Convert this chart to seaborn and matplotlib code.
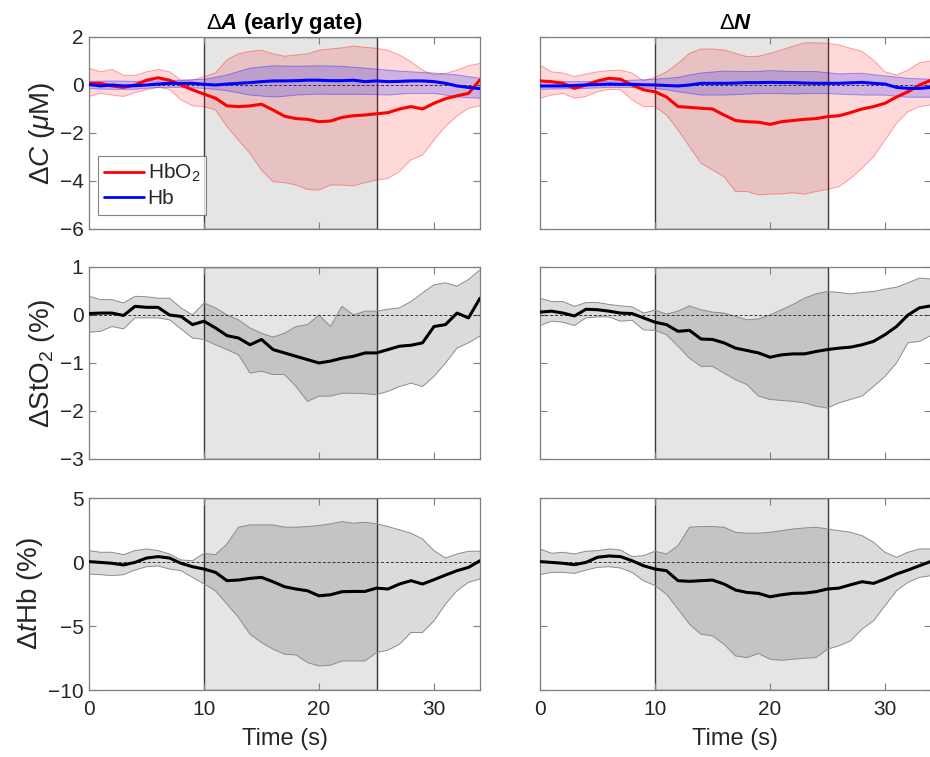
import numpy as np
import pandas as pd
import matplotlib
matplotlib.use("Agg")
import matplotlib.pyplot as plt
import seaborn as sns

# Sample times (s)
TIME = list(range(35))

# ---- Delta A (early gate) ----
A_HBO2_MEAN = [0.07, 0.07, -0.04, -0.10, 0.00, 0.20, 0.30, 0.20, 0.00, -0.20, -0.38, -0.55, -0.87, -0.90, -0.87, -0.80, -1.04, -1.30, -1.40, -1.43, -1.53, -1.50, -1.35, -1.28, -1.25, -1.20, -1.15, -1.00, -0.90, -1.00, -0.76, -0.57, -0.45, -0.35, 0.22]
A_HBO2_UP = [0.70, 0.55, 0.65, 0.40, 0.40, 0.55, 0.65, 0.55, 0.20, 0.20, 0.35, 0.50, 1.05, 1.30, 1.40, 1.45, 1.30, 1.20, 1.25, 1.30, 1.45, 1.50, 1.55, 1.62, 1.57, 1.53, 1.45, 1.25, 0.97, 0.62, 0.42, 0.48, 0.62, 0.80, 0.90]
A_HBO2_LO = [-0.48, -0.35, -0.42, -0.48, -0.32, -0.20, -0.10, -0.18, -0.62, -0.87, -0.90, -1.04, -1.73, -2.30, -2.85, -3.55, -4.03, -4.07, -4.17, -4.35, -4.38, -4.17, -4.17, -4.20, -4.07, -3.96, -3.90, -3.60, -3.12, -2.92, -2.30, -1.73, -1.30, -0.97, -0.87]
A_HB_MEAN = [0.02, -0.04, 0.00, -0.04, -0.03, 0.00, 0.04, 0.07, 0.07, 0.07, 0.03, 0.00, 0.04, 0.07, 0.10, 0.14, 0.17, 0.17, 0.18, 0.20, 0.20, 0.18, 0.18, 0.20, 0.14, 0.17, 0.14, 0.15, 0.17, 0.17, 0.14, 0.07, -0.04, -0.10, -0.15]
A_HB_UP = [0.15, 0.16, 0.17, 0.16, 0.15, 0.16, 0.17, 0.18, 0.20, 0.22, 0.24, 0.32, 0.42, 0.56, 0.70, 0.75, 0.80, 0.79, 0.78, 0.79, 0.80, 0.79, 0.78, 0.74, 0.70, 0.66, 0.62, 0.58, 0.55, 0.52, 0.50, 0.46, 0.42, 0.35, 0.28]
A_HB_LO = [-0.14, -0.17, -0.18, -0.18, -0.18, -0.14, -0.10, -0.10, -0.10, -0.12, -0.14, -0.18, -0.24, -0.33, -0.42, -0.46, -0.50, -0.47, -0.42, -0.40, -0.38, -0.39, -0.39, -0.39, -0.39, -0.40, -0.42, -0.38, -0.35, -0.35, -0.35, -0.42, -0.50, -0.53, -0.55]

A_STO2_MEAN = [0.03, 0.04, 0.04, -0.01, 0.18, 0.16, 0.16, 0.00, -0.03, -0.20, -0.13, -0.27, -0.43, -0.48, -0.62, -0.51, -0.72, -0.79, -0.86, -0.93, -1.00, -0.96, -0.90, -0.86, -0.79, -0.79, -0.72, -0.65, -0.63, -0.58, -0.24, -0.20, 0.04, -0.06, 0.35]
A_STO2_UP = [0.39, 0.32, 0.32, 0.25, 0.39, 0.38, 0.35, 0.35, 0.15, 0.00, 0.25, 0.15, 0.00, -0.10, -0.27, -0.38, -0.46, -0.38, -0.24, -0.20, 0.00, -0.24, 0.18, 0.00, 0.08, 0.08, 0.12, 0.15, 0.28, 0.46, 0.63, 0.67, 0.60, 0.74, 0.94]
A_STO2_LO = [-0.36, -0.34, -0.24, -0.29, -0.06, -0.06, -0.06, -0.10, -0.29, -0.48, -0.51, -0.62, -0.72, -0.83, -1.21, -1.17, -1.24, -1.24, -1.49, -1.80, -1.69, -1.69, -1.63, -1.63, -1.64, -1.66, -1.59, -1.49, -1.42, -1.49, -1.28, -1.00, -0.69, -0.58, -0.44]

A_THB_MEAN = [0.03, -0.03, -0.10, -0.23, -0.03, 0.31, 0.42, 0.31, -0.10, -0.37, -0.55, -0.81, -1.46, -1.41, -1.28, -1.20, -1.54, -1.93, -2.11, -2.25, -2.64, -2.56, -2.32, -2.30, -2.30, -2.04, -2.11, -1.72, -1.46, -1.72, -1.38, -1.02, -0.68, -0.42, 0.10]
A_THB_UP = [0.89, 0.76, 0.76, 0.57, 0.89, 1.02, 0.89, 0.63, 0.16, 0.10, 0.68, 0.57, 1.41, 2.72, 2.90, 2.90, 2.90, 2.72, 2.72, 2.77, 2.85, 2.98, 3.16, 3.03, 3.10, 2.98, 2.77, 2.51, 2.25, 1.80, 0.89, 0.31, 0.63, 0.84, 0.84]
A_THB_LO = [-0.94, -0.99, -1.07, -0.99, -0.63, -0.37, -0.31, -0.55, -0.68, -1.20, -1.72, -2.25, -3.29, -4.33, -5.64, -6.29, -6.81, -7.20, -7.26, -7.86, -8.12, -8.07, -7.73, -7.73, -7.73, -7.08, -6.89, -6.42, -5.51, -5.51, -4.60, -3.29, -2.25, -1.59, -1.33]

# ---- Delta N ----
N_HBO2_MEAN = [0.17, 0.14, 0.07, -0.14, 0.00, 0.17, 0.28, 0.24, 0.00, -0.20, -0.28, -0.50, -0.90, -0.93, -0.97, -1.00, -1.25, -1.48, -1.53, -1.55, -1.64, -1.53, -1.48, -1.43, -1.40, -1.32, -1.28, -1.15, -1.00, -0.90, -0.76, -0.50, -0.28, 0.00, 0.20]
N_HBO2_UP = [0.83, 0.55, 0.50, 0.35, 0.46, 0.55, 0.60, 0.62, 0.50, 0.17, 0.32, 0.55, 0.90, 1.32, 1.50, 1.50, 1.46, 1.32, 1.18, 1.20, 1.32, 1.46, 1.62, 1.76, 1.76, 1.74, 1.67, 1.53, 1.40, 1.04, 0.55, 0.42, 0.62, 0.93, 1.00]
N_HBO2_LO = [-0.55, -0.42, -0.35, -0.55, -0.48, -0.28, -0.18, -0.20, -0.62, -0.90, -0.90, -1.25, -1.87, -2.57, -3.26, -3.54, -3.82, -4.44, -4.44, -4.58, -4.55, -4.54, -4.49, -4.55, -4.44, -4.35, -4.24, -3.90, -3.47, -2.99, -2.30, -1.60, -1.11, -0.90, -0.83]
N_HB_MEAN = [-0.04, -0.04, -0.04, -0.02, 0.00, 0.02, 0.04, 0.03, 0.03, 0.01, 0.00, -0.02, -0.04, 0.00, 0.07, 0.07, 0.07, 0.08, 0.10, 0.10, 0.11, 0.10, 0.10, 0.08, 0.07, 0.07, 0.07, 0.09, 0.11, 0.07, 0.04, -0.10, -0.14, -0.14, -0.10]
N_HB_UP = [0.14, 0.14, 0.14, 0.14, 0.14, 0.16, 0.17, 0.18, 0.20, 0.22, 0.24, 0.28, 0.32, 0.42, 0.50, 0.54, 0.58, 0.57, 0.56, 0.57, 0.60, 0.58, 0.56, 0.56, 0.56, 0.51, 0.46, 0.48, 0.49, 0.43, 0.38, 0.33, 0.28, 0.26, 0.24]
N_HB_LO = [-0.18, -0.17, -0.16, -0.15, -0.14, -0.12, -0.10, -0.10, -0.10, -0.12, -0.14, -0.20, -0.28, -0.35, -0.42, -0.42, -0.42, -0.40, -0.38, -0.36, -0.35, -0.36, -0.38, -0.36, -0.35, -0.36, -0.38, -0.40, -0.42, -0.42, -0.42, -0.47, -0.51, -0.51, -0.51]

N_STO2_MEAN = [0.06, 0.08, 0.04, -0.02, 0.12, 0.11, 0.08, 0.04, 0.03, -0.06, -0.15, -0.20, -0.34, -0.32, -0.50, -0.51, -0.58, -0.69, -0.74, -0.79, -0.88, -0.83, -0.81, -0.81, -0.76, -0.72, -0.69, -0.67, -0.62, -0.55, -0.41, -0.24, 0.00, 0.15, 0.19]
N_STO2_UP = [0.35, 0.28, 0.28, 0.18, 0.26, 0.26, 0.22, 0.19, 0.17, 0.04, 0.10, 0.02, 0.08, 0.19, 0.11, 0.06, 0.04, -0.03, -0.10, -0.08, 0.00, 0.11, 0.22, 0.35, 0.44, 0.49, 0.47, 0.44, 0.47, 0.49, 0.54, 0.58, 0.67, 0.77, 0.75]
N_STO2_LO = [-0.22, -0.13, -0.15, -0.22, -0.06, -0.04, -0.04, -0.13, -0.11, -0.31, -0.32, -0.41, -0.65, -0.90, -1.07, -1.07, -1.21, -1.35, -1.45, -1.69, -1.76, -1.78, -1.80, -1.83, -1.90, -1.94, -1.83, -1.76, -1.69, -1.49, -1.28, -1.00, -0.58, -0.55, -0.43]

N_THB_MEAN = [0.03, -0.03, -0.10, -0.21, -0.03, 0.37, 0.47, 0.42, 0.10, -0.29, -0.55, -0.68, -1.46, -1.51, -1.46, -1.41, -1.72, -2.19, -2.38, -2.45, -2.72, -2.56, -2.45, -2.43, -2.32, -2.11, -2.04, -1.78, -1.54, -1.67, -1.33, -0.94, -0.63, -0.29, 0.05]
N_THB_UP = [1.02, 0.68, 0.76, 0.63, 0.84, 0.89, 1.02, 0.94, 0.42, 0.50, 0.84, 0.63, 1.28, 2.72, 2.77, 2.77, 2.72, 2.32, 2.25, 2.25, 2.32, 2.45, 2.58, 2.66, 2.72, 2.58, 2.45, 2.32, 2.06, 1.54, 0.76, 0.37, 0.76, 1.02, 1.02]
N_THB_LO = [-0.99, -0.81, -0.81, -0.89, -0.63, -0.42, -0.37, -0.47, -0.81, -1.46, -1.85, -2.51, -3.68, -4.86, -5.64, -5.77, -6.42, -7.34, -7.47, -7.15, -7.60, -7.68, -7.60, -7.52, -7.47, -6.81, -6.55, -6.16, -5.25, -4.60, -3.42, -2.25, -1.59, -1.20, -1.07]

STIM_WINDOW = (10, 25)
COL_TITLES = [r"$\Delta\mathbfit{A}$ (early gate)", r"$\Delta\mathbfit{N}$"]
ROW_LABELS = [r"$\Delta C$ ($\mu$M)", r"$\Delta$StO$_2$ (%)", r"$\Delta t$Hb (%)"]
ROW_YLIMS = [(-6, 2), (-3, 1), (-10, 5)]
ROW_YTICKS = [[-6, -4, -2, 0, 2], [-3, -2, -1, 0, 1], [-10, -5, 0, 5]]
XTICKS = [0, 10, 20, 30]

sns.set_theme(style="ticks")
plt.rcParams.update({
    "font.family": ["Liberation Sans", "DejaVu Sans"],
    "mathtext.fontset": "custom",
    "mathtext.rm": "Liberation Sans",
    "mathtext.it": "Liberation Sans:italic",
    "mathtext.bf": "Liberation Sans:bold",
    "mathtext.bfit": "Liberation Sans:bold:italic",
    "mathtext.sf": "Liberation Sans",
    "axes.edgecolor": "#7f7f7f",
    "axes.linewidth": 0.9,
    "xtick.color": "#7f7f7f",
    "ytick.color": "#7f7f7f",
    "xtick.labelcolor": "#262626",
    "ytick.labelcolor": "#262626",
    "xtick.direction": "in",
    "ytick.direction": "in",
})

RED = "#ff0000"
BLUE = "#0000ff"

fig = plt.figure(figsize=(9.3, 7.57), dpi=100)
lefts = [89 / 930, 540 / 930]
width = 391 / 930
bottoms = [1 - 229 / 757, 1 - 459 / 757, 1 - 690 / 757]
height = 192 / 757

panels = {
    0: [(A_HBO2_MEAN, A_HBO2_UP, A_HBO2_LO, A_HB_MEAN, A_HB_UP, A_HB_LO),
        (A_STO2_MEAN, A_STO2_UP, A_STO2_LO),
        (A_THB_MEAN, A_THB_UP, A_THB_LO)],
    1: [(N_HBO2_MEAN, N_HBO2_UP, N_HBO2_LO, N_HB_MEAN, N_HB_UP, N_HB_LO),
        (N_STO2_MEAN, N_STO2_UP, N_STO2_LO),
        (N_THB_MEAN, N_THB_UP, N_THB_LO)],
}


def stim_box(ax):
    ax.axvspan(*STIM_WINDOW, facecolor="#e5e5e5", edgecolor="#3a3a3a",
               linewidth=1.0, zorder=0)


for c in range(2):
    for r in range(3):
        ax = fig.add_axes([lefts[c], bottoms[r], width, height])
        stim_box(ax)
        series = panels[c][r]
        if r == 0:
            mo, uo, lo, mb, ub, lb = series
            df = pd.DataFrame({"t": TIME, "HbO2": mo, "Hb": mb})
            ax.fill_between(TIME, lo, uo, facecolor=RED, alpha=0.15,
                            edgecolor="none", zorder=1)
            ax.plot(TIME, uo, color=RED, alpha=0.35, lw=0.7, zorder=1)
            ax.plot(TIME, lo, color=RED, alpha=0.35, lw=0.7, zorder=1)
            ax.fill_between(TIME, lb, ub, facecolor=BLUE, alpha=0.18,
                            edgecolor="none", zorder=2)
            ax.plot(TIME, ub, color=BLUE, alpha=0.35, lw=0.7, zorder=2)
            ax.plot(TIME, lb, color=BLUE, alpha=0.35, lw=0.7, zorder=2)
            ax.axhline(0, color="#333333", lw=0.7, ls=(0, (3, 2)), zorder=3)
            sns.lineplot(data=df, x="t", y="HbO2", ax=ax, color=RED, lw=2.2,
                         label="HbO$_2$", zorder=4)
            sns.lineplot(data=df, x="t", y="Hb", ax=ax, color=BLUE, lw=2.2,
                         label="Hb", zorder=5)
            if c == 0:
                leg = ax.legend(loc="lower left",
                                bbox_to_anchor=(0.022, 0.075),
                                borderaxespad=0.0, fontsize=15, frameon=True,
                                fancybox=False, handlelength=1.95,
                                handletextpad=0.15, borderpad=0.3,
                                labelspacing=0.25)
                leg.get_frame().set_edgecolor("#666666")
                leg.get_frame().set_linewidth(0.8)
                for h in leg.get_lines():
                    h.set_linewidth(2.0)
            else:
                ax.get_legend().remove()
        else:
            m, u, l = series
            df = pd.DataFrame({"t": TIME, "mean": m})
            ax.fill_between(TIME, l, u, facecolor="black", alpha=0.14,
                            edgecolor="none", zorder=1)
            ax.plot(TIME, u, color="#8c8c8c", lw=0.7, zorder=1)
            ax.plot(TIME, l, color="#8c8c8c", lw=0.7, zorder=1)
            ax.axhline(0, color="#333333", lw=0.7, ls=(0, (3, 2)), zorder=3)
            sns.lineplot(data=df, x="t", y="mean", ax=ax, color="black",
                         lw=2.2, zorder=4)

        ax.set_xlim(0, 34)
        ax.set_ylim(*ROW_YLIMS[r])
        ax.set_yticks(ROW_YTICKS[r])
        ax.set_xticks(XTICKS)
        ax.tick_params(top=True, right=True, length=5, width=0.8,
                       labelsize=15, pad=4)
        ax.tick_params(axis="x", pad=7)
        for s in ax.spines.values():
            s.set_visible(True)
        if c == 0:
            ax.set_ylabel(ROW_LABELS[r], fontsize=20, color="#262626",
                          labelpad=2)
        else:
            ax.set_ylabel("")
            ax.tick_params(labelleft=False)
        if r == 2:
            ax.set_xlabel("Time (s)", fontsize=17, color="#262626",
                          labelpad=7)
        else:
            ax.set_xlabel("")
            ax.tick_params(labelbottom=False)
        if r == 0:
            ax.set_title(COL_TITLES[c], fontsize=16, fontweight="bold",
                         color="black", pad=6)

fig.savefig("out.png", dpi=100)
